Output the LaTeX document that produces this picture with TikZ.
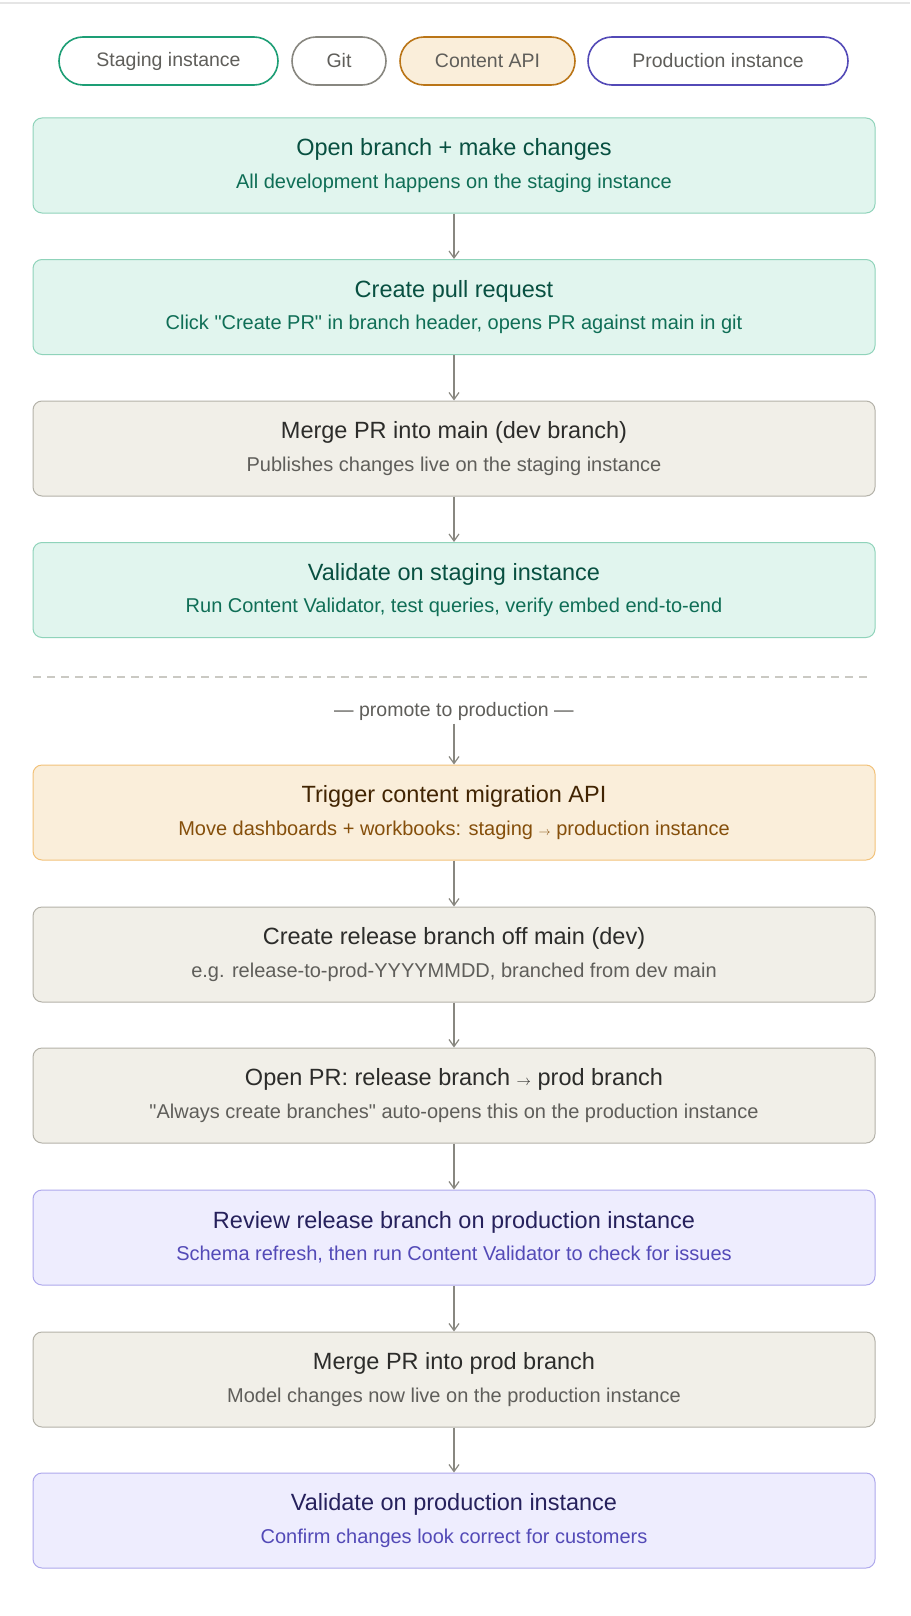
\documentclass[tikz,border=0pt]{standalone}
\usepackage{fontspec}
\setmainfont{Liberation Sans}[Ligatures=TeXOff]
\usetikzlibrary{arrows.meta}
\definecolor{gF}{HTML}{E1F5EE}\definecolor{gB}{HTML}{8FD3BA}\definecolor{gT}{HTML}{085041}\definecolor{gS}{HTML}{0F6E56}
\definecolor{nF}{HTML}{F1EFE8}\definecolor{nB}{HTML}{B4B2A9}\definecolor{nT}{HTML}{2C2C2A}\definecolor{nS}{HTML}{5F5E5A}
\definecolor{oF}{HTML}{FAEEDA}\definecolor{oB}{HTML}{F2C27A}\definecolor{oT}{HTML}{412402}\definecolor{oS}{HTML}{854F0B}
\definecolor{pF}{HTML}{EEEDFE}\definecolor{pB}{HTML}{AFA9EC}\definecolor{pT}{HTML}{26215C}\definecolor{pS}{HTML}{534AB7}
\definecolor{gL}{HTML}{1D9E75}\definecolor{nL}{HTML}{888780}\definecolor{oL}{HTML}{BA7517}
\begin{document}
\begin{tikzpicture}[x=1pt,y=-1pt,
 box/.style={draw=#1B,fill=#1F,line width=1pt,rounded corners=9pt,minimum width=842pt,minimum height=95pt,align=center,inner sep=0pt},
 pill/.style={draw=#1,line width=1.6pt,rounded corners=24pt,minimum height=48pt,inner sep=0pt,text=nS,font=\fontsize{19.5}{22}\selectfont},
 arr/.style={draw=nL,line width=1.2pt,-{Straight Barb[length=7pt,width=10pt]}}]
\useasboundingbox (0,0) rectangle (910,1616);
\fill[white] (0,0) rectangle (910,1616);
\draw[draw=black!10,line width=2pt] (0,3) -- (910,3);
\node[pill=gL,minimum width=219pt] (l1) at (168.5,61) {Staging instance};
\node[pill=nL,minimum width=94pt] (l2) at (339,61) {Git};
\node[pill=oL,fill=oF,minimum width=175pt] (l3) at (487.5,61) {Content API};
\node[pill=pS,minimum width=260pt] (l4) at (718,61) {Production instance};
\newcommand{\stepbox}[5]{\node[box=#2] (#1) at (454,#3) {{\fontsize{23.5}{26}\selectfont\color{#2T}#4}\\[12pt]{\fontsize{20}{22}\selectfont\color{#2S}#5}};}
\stepbox{b1}{g}{165.5}{Open branch + make changes}{All development happens on the staging instance}
\stepbox{b2}{g}{307}{Create pull request}{Click "Create PR" in branch header, opens PR against main in git}
\stepbox{b3}{n}{448.5}{Merge PR into main (dev branch)}{Publishes changes live on the staging instance}
\stepbox{b4}{g}{590}{Validate on staging instance}{Run Content Validator, test queries, verify embed end-to-end}
\stepbox{b5}{o}{812.5}{Trigger content migration API}{Move dashboards + workbooks: staging {\fontsize{13}{13}\selectfont$\rightarrow$} production instance}
\stepbox{b6}{n}{954.5}{Create release branch off main (dev)}{e.g. release-to-prod-YYYYMMDD, branched from dev main}
\stepbox{b7}{n}{1095.5}{Open PR: release branch {\fontsize{15}{15}\selectfont$\rightarrow$} prod branch}{"Always create branches" auto-opens this on the production instance}
\stepbox{b8}{p}{1237.5}{Review release branch on production instance}{Schema refresh, then run Content Validator to check for issues}
\stepbox{b9}{n}{1379.5}{Merge PR into prod branch}{Model changes now live on the production instance}
\stepbox{b10}{p}{1520.5}{Validate on production instance}{Confirm changes look correct for customers}
\draw[nB!70,line width=1.5pt,dash pattern=on 8pt off 6pt] (33,677) -- (868,677);
\node[text=nS,font=\fontsize{19.5}{22}\selectfont] (pr) at (454,711) {— promote to production —};
\foreach \a/\b in {b1/b2,b2/b3,b3/b4,b5/b6,b6/b7,b7/b8,b8/b9,b9/b10} \draw[arr] (\a) -- (\b);
\draw[arr] (pr) -- (b5);
\end{tikzpicture}
\end{document}
